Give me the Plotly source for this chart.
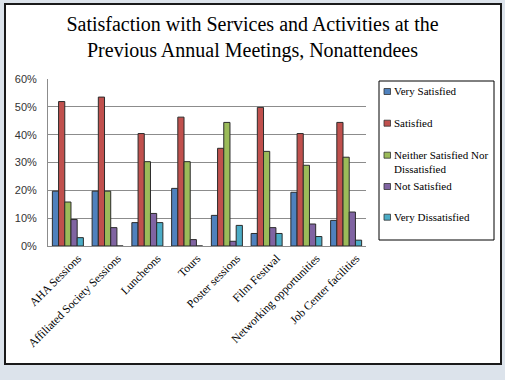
import plotly.graph_objects as go

categories = ["AHA Sessions", "Affiliated Society Sessions", "Luncheons", "Tours",
              "Poster sessions", "Film Festival", "Networking opportunities", "Job Center facilities"]
series_names = ["Very Satisfied", "Satisfied", "Neither Satisfied Nor<br>Dissatisfied",
                "Not Satisfied", "Very Dissatisfied"]
very_satisfied = [0.197, 0.197, 0.084, 0.207, 0.110, 0.045, 0.193, 0.092]
satisfied = [0.519, 0.535, 0.404, 0.463, 0.351, 0.498, 0.404, 0.444]
neither = [0.158, 0.197, 0.303, 0.303, 0.444, 0.340, 0.290, 0.319]
not_satisfied = [0.095, 0.066, 0.117, 0.023, 0.017, 0.066, 0.079, 0.122]
very_dissatisfied = [0.030, 0.0, 0.084, 0.0, 0.074, 0.045, 0.034, 0.021]
series_values = [very_satisfied, satisfied, neither, not_satisfied, very_dissatisfied]
colors = ["#4F81BD", "#C0504D", "#9BBB59", "#8064A2", "#4BACC6"]
y_ticks = [0, 0.1, 0.2, 0.3, 0.4, 0.5, 0.6]
y_tick_labels = ["0%", "10%", "20%", "30%", "40%", "50%", "60%"]

fig = go.Figure()
for i, (name, vals, col) in enumerate(zip(series_names, series_values, colors)):
    fig.add_trace(go.Bar(
        x=categories, y=vals, name=name.replace("<br>", " "), showlegend=False,
        marker=dict(color=col, line=dict(color="#2b2b2b", width=1)),
    ))

serif = "Liberation Serif, Times New Roman, serif"

# plot area: x 48..366, y 79..246 (px)
L, R, T, B = 48, 366, 79, 246
W, H = R - L, B - T
def px_x(p):
    return (p - L) / W
def px_y(p):
    return (B - p) / H

shapes = [
    dict(type="rect", xref="paper", yref="paper",
         x0=px_x(5), x1=px_x(501), y0=px_y(364), y1=px_y(4),
         fillcolor="white", line=dict(color="#1a1a1a", width=2), layer="below"),
    # legend box
    dict(type="rect", xref="paper", yref="paper",
         x0=px_x(379), x1=px_x(494), y0=px_y(240), y1=px_y(81),
         fillcolor="white", line=dict(color="black", width=1)),
]
annotations = []
legend_rows = [91, 122.7, 154.7, 186, 216.7]
for name, col, yc in zip(series_names, colors, legend_rows):
    shapes.append(dict(type="rect", xref="paper", yref="paper",
                       x0=px_x(384), x1=px_x(390.5), y0=px_y(yc + 3.5), y1=px_y(yc - 2.5),
                       fillcolor=col, line=dict(color="#333", width=0.8)))
    annotations.append(dict(text=name, xref="paper", yref="paper",
                            x=px_x(391.5), y=px_y(yc - 8), xanchor="left", yanchor="top",
                            align="left", showarrow=False,
                            font=dict(family=serif, size=11, color="black")))

fig.update_layout(
    width=505, height=380,
    margin=dict(l=L, r=505 - R, t=T, b=380 - B, pad=0, autoexpand=False),
    paper_bgcolor="#dce3eb",
    plot_bgcolor="white",
    barmode="group", bargap=0.22, bargroupgap=0.0,
    title=dict(text="Satisfaction with Services and Activities at the<br>Previous Annual Meetings, Nonattendees",
               x=0.5, xanchor="center", xref="container", y=1 - 31 / 380, yanchor="middle",
               yref="container",
               font=dict(family=serif, size=20, color="black")),
    font=dict(family=serif, color="black"),
    showlegend=False,
    xaxis=dict(tickangle=-45, tickfont=dict(family=serif, size=11.6, color="black"),
               showline=True, linecolor="#8c8c8c", linewidth=1, ticks="", showgrid=False,
               automargin=False, ticklabelshift=10),
    yaxis=dict(range=[0, 0.6], tickvals=y_ticks, ticktext=y_tick_labels,
               tickfont=dict(family="Liberation Sans, Arial, sans-serif", size=11, color="#333"),
               showline=True, linecolor="#8c8c8c", linewidth=1, showgrid=True,
               gridcolor="#8c8c8c", gridwidth=1, ticks="", zeroline=False, ticklabelstandoff=8,
               automargin=False),
    shapes=shapes,
    annotations=annotations,
)

fig.write_html("out.html", config={"displayModeBar": False},
               post_script="document.body.style.margin='0';document.body.style.overflow='hidden';")
